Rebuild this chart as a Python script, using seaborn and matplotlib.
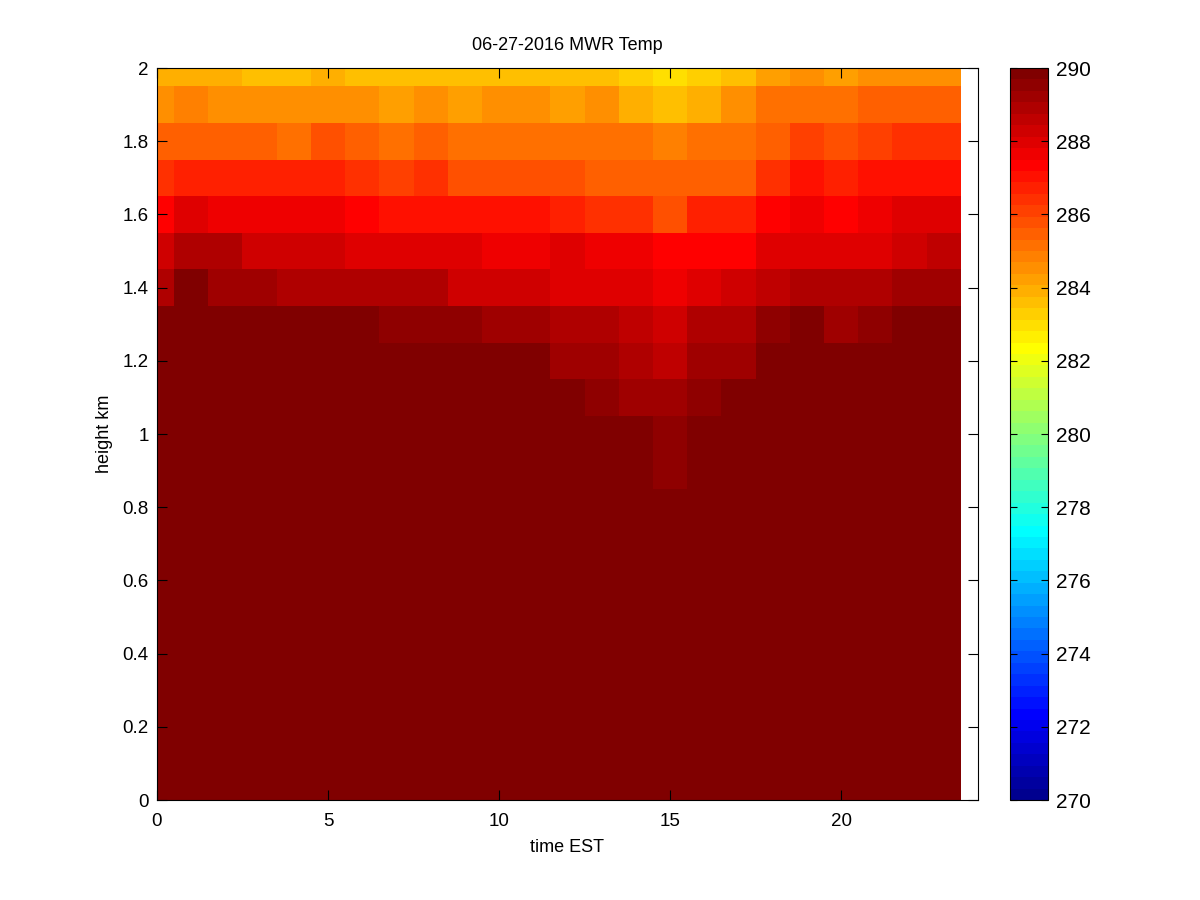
import numpy as np
import pandas as pd
import matplotlib
matplotlib.use("Agg")
import matplotlib.pyplot as plt
from matplotlib.colors import ListedColormap
import seaborn as sns

# ---- data ----
hours = list(range(24))                       # time EST (cell centres)
heights = [round(0.1 * k, 1) for k in range(21)]  # height km (cell centres)

# temperatures (K) for the upper levels
t_2_0 = [283.8, 283.8, 283.8, 283.6, 283.6, 284.0, 283.6, 283.6, 283.6, 283.6, 283.6, 283.6,
         283.7, 283.7, 283.3, 283.0, 283.4, 283.7, 284.1, 284.5, 284.1, 284.5, 284.5, 284.6]
t_1_9 = [284.4, 284.8, 284.6, 284.6, 284.6, 284.6, 284.6, 284.3, 284.5, 284.2, 284.5, 284.5,
         284.3, 284.4, 284.0, 283.6, 283.9, 284.4, 285.0, 285.1, 285.1, 285.4, 285.4, 285.6]
t_1_8 = [285.5, 285.6, 285.6, 285.6, 285.3, 285.7, 285.5, 285.2, 285.5, 285.1, 285.1, 285.1,
         285.3, 285.0, 285.0, 284.8, 285.0, 285.0, 285.6, 286.1, 285.8, 286.0, 286.3, 286.3]
t_1_7 = [286.4, 286.7, 286.6, 286.6, 286.6, 286.6, 286.3, 286.0, 286.3, 285.9, 285.9, 285.9,
         285.9, 285.6, 285.4, 285.4, 285.6, 285.6, 286.3, 286.9, 286.6, 286.9, 287.0, 287.0]
t_1_6 = [287.2, 287.9, 287.5, 287.5, 287.5, 287.5, 287.2, 286.9, 286.9, 286.9, 286.9, 286.9,
         286.7, 286.3, 286.3, 285.9, 286.6, 286.6, 287.2, 287.5, 287.2, 287.5, 287.9, 287.9]
t_1_5 = [288.3, 288.8, 288.8, 288.4, 288.4, 288.4, 288.1, 287.9, 287.9, 287.9, 287.5, 287.5,
         287.9, 287.5, 287.5, 287.2, 287.2, 287.2, 288.0, 288.1, 288.0, 288.1, 288.3, 288.6]
t_1_4 = [288.9, 289.7, 289.2, 289.2, 289.0, 289.0, 288.8, 288.8, 288.8, 288.3, 288.3, 288.3,
         288.1, 288.0, 288.0, 287.5, 287.9, 288.2, 288.5, 288.8, 288.8, 288.8, 289.1, 289.1]
t_1_3 = [290.5, 290.5, 290.5, 290.5, 290.5, 290.5, 290.5, 289.6, 289.6, 289.6, 289.3, 289.3,
         288.9, 288.9, 288.6, 288.3, 288.9, 288.9, 289.4, 289.8, 289.3, 289.6, 290.5, 290.5]
t_1_2 = [291.0, 291.0, 291.0, 291.0, 291.0, 291.0, 291.0, 290.6, 290.6, 290.6, 290.6, 290.4,
         289.3, 289.3, 288.9, 288.7, 289.2, 289.2, 290.4, 290.5, 290.5, 290.6, 291.0, 291.0]
t_1_1 = [291.5, 291.5, 291.5, 291.5, 291.5, 291.5, 291.5, 291.2, 291.2, 291.2, 291.0, 290.8,
         290.2, 289.5, 289.2, 289.3, 289.5, 290.3, 290.8, 291.0, 291.0, 291.0, 291.5, 291.5]
t_1_0 = [292.0, 292.0, 292.0, 292.0, 292.0, 292.0, 292.0, 291.8, 291.8, 291.6, 291.5, 291.3,
         290.8, 290.4, 290.2, 289.5, 290.3, 290.8, 291.3, 291.5, 291.6, 291.6, 292.0, 292.0]
t_0_9 = [292.5, 292.5, 292.5, 292.5, 292.5, 292.5, 292.5, 292.3, 292.3, 292.1, 292.0, 291.8,
         291.3, 290.8, 290.5, 289.5, 290.6, 291.2, 291.8, 292.0, 292.1, 292.1, 292.5, 292.5]
# levels 0.0-0.8 km are all warmer than the 290 K colour limit
t_low = [293.0] * 24

upper = [t_0_9, t_1_0, t_1_1, t_1_2, t_1_3, t_1_4, t_1_5, t_1_6, t_1_7, t_1_8, t_1_9, t_2_0]
rows = [t_low] * 9 + upper
temps = pd.DataFrame(rows, index=heights, columns=hours)

x_ticks = [0, 5, 10, 15, 20]
y_ticks = [0, 0.2, 0.4, 0.6, 0.8, 1, 1.2, 1.4, 1.6, 1.8, 2]
cbar_ticks = list(range(270, 291, 2))


def matlab_jet(n=64):
    m = int(np.ceil(n / 4))
    u = np.concatenate([np.arange(1, m + 1) / m, np.ones(m - 1), np.arange(m, 0, -1) / m])
    g = int(np.ceil(m / 2)) - (1 if n % 4 == 1 else 0) + np.arange(1, len(u) + 1)
    r = g + m
    b = g - m
    J = np.zeros((n, 3))
    for col, idx in ((0, r), (1, g), (2, b)):
        ok = (idx >= 1) & (idx <= n)
        J[idx[ok] - 1, col] = u[ok]
    return ListedColormap(J, name="matlab_jet")


# ---- figure ----
sns.set_style("white")
plt.rcParams["font.family"] = ["Liberation Sans", "DejaVu Sans"]
plt.rcParams["text.color"] = "black"
plt.rcParams["axes.labelcolor"] = "black"
plt.rcParams["xtick.color"] = "black"
plt.rcParams["ytick.color"] = "black"

fig = plt.figure(figsize=(12, 9), dpi=100)
ax = fig.add_axes([0.1308, 0.1111, 0.6842, 0.8133])
cax = fig.add_axes([0.8417, 0.1111, 0.0317, 0.8133])

cmap = matlab_jet(64)
sns.heatmap(temps, ax=ax, cbar_ax=cax, cmap=cmap, vmin=270, vmax=290,
            xticklabels=False, yticklabels=False, cbar=True)

# heatmap cell i spans [i, i+1]; hour h -> h + 0.5, height z -> 10 z + 0.5
ax.set_xlim(0 + 0.5, 24 + 0.5)
ax.set_ylim(0 + 0.5, 20 + 0.5)
ax.set_xticks([h + 0.5 for h in x_ticks])
ax.set_xticklabels([str(h) for h in x_ticks])
ax.set_yticks([10 * z + 0.5 for z in y_ticks])
ax.set_yticklabels([("%g" % z) for z in y_ticks])
ax.set_axisbelow(False)
ax.tick_params(direction="in", length=7, width=0.8, top=True, right=True,
               bottom=True, left=True, labelsize=13.5, pad=6, colors="black")
ax.tick_params(axis="x", pad=9)
for s in ax.spines.values():
    s.set_visible(True)
    s.set_color("black")
    s.set_linewidth(0.8)
    s.set_zorder(5)
ax.set_facecolor("white")
ax.set_xlabel("time EST", fontsize=13, labelpad=7, color="black")
ax.set_ylabel("height km", fontsize=13, labelpad=7, color="black")
ax.set_title("06-27-2016 MWR Temp", fontsize=13, pad=13, color="black")

cax.set_axisbelow(False)
cax.set_yticks(cbar_ticks)
cax.set_yticklabels([str(t) for t in cbar_ticks])
cax.tick_params(direction="in", length=5, width=0.8, left=True, right=True,
                labelleft=False, labelright=True, labelsize=15, pad=6, colors="black")
cb = ax.collections[0].colorbar
cb.outline.set_visible(True)
cb.outline.set_edgecolor("black")
cb.outline.set_linewidth(0.8)

fig.savefig("out.png", dpi=100)
